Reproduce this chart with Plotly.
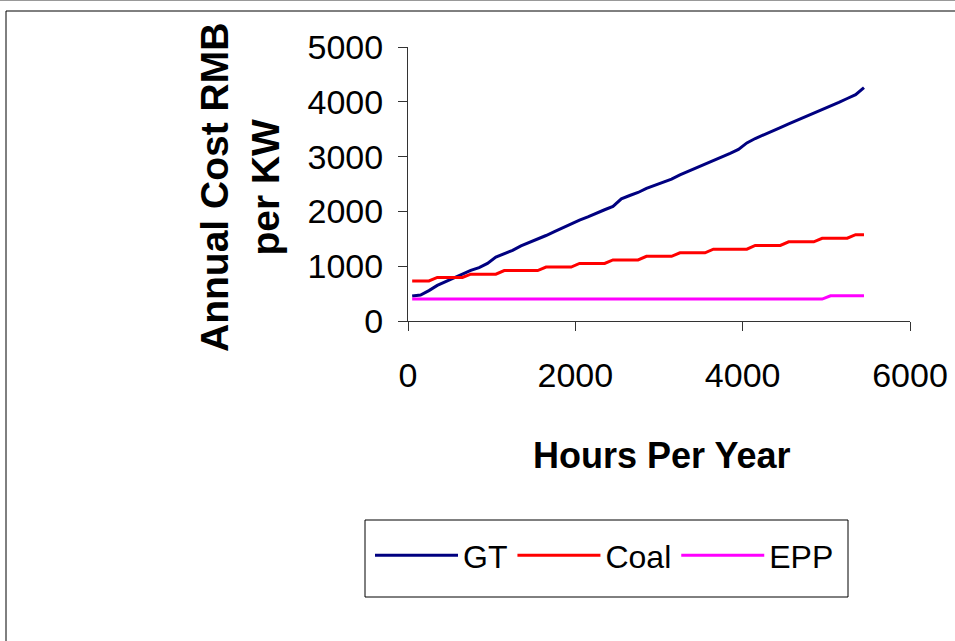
import plotly.graph_objects as go

# Operating hours per year (x values shared by all three series)
hours = [50, 150, 250, 350, 450, 550, 650, 750, 850, 950,
         1050, 1150, 1250, 1350, 1450, 1550, 1650, 1750, 1850, 1950,
         2050, 2150, 2250, 2350, 2450, 2550, 2650, 2750, 2850, 2950,
         3050, 3150, 3250, 3350, 3450, 3550, 3650, 3750, 3850, 3950,
         4050, 4150, 4250, 4350, 4450, 4550, 4650, 4750, 4850, 4950,
         5050, 5150, 5250, 5350, 5450]

# Annual cost, RMB per kW
gt_cost = [457, 475, 555, 650, 720, 790, 860, 925, 975, 1050,
           1165, 1225, 1290, 1370, 1430, 1490, 1560, 1630, 1700, 1780,
           1840, 1900, 1970, 2030, 2090, 2230, 2290, 2345, 2420, 2480,
           2530, 2590, 2665, 2730, 2790, 2860, 2930, 2995, 3060, 3130,
           3250, 3330, 3400, 3460, 3530, 3595, 3660, 3720, 3790, 3855,
           3920, 3990, 4060, 4130, 4260]

coal_cost = [730, 730, 730, 795, 795, 795, 795, 855, 855, 855,
             855, 920, 920, 920, 920, 920, 985, 985, 985, 985,
             1050, 1050, 1050, 1050, 1115, 1115, 1115, 1115, 1180, 1180,
             1180, 1180, 1245, 1245, 1245, 1245, 1310, 1310, 1310, 1310,
             1310, 1380, 1380, 1380, 1380, 1445, 1445, 1445, 1445, 1510,
             1510, 1510, 1510, 1575, 1575]

epp_cost = [400, 400, 400, 400, 400, 400, 400, 400, 400, 400,
            400, 400, 400, 400, 400, 400, 400, 400, 400, 400,
            400, 400, 400, 400, 400, 400, 400, 400, 400, 400,
            400, 400, 400, 400, 400, 400, 400, 400, 400, 400,
            400, 400, 400, 400, 400, 400, 400, 400, 400, 400,
            460, 460, 460, 460, 460]

series_names = ["GT", "Coal", "EPP"]
series_colors = ["#000080", "#FF0000", "#FF00FF"]
x_ticks = [0, 2000, 4000, 6000]
y_ticks = [0, 1000, 2000, 3000, 4000, 5000]

W, H = 955, 641
ML, MR, MT, MB = 408, 45, 47, 320
PW, PH = W - ML - MR, H - MT - MB

FONT = "Liberation Sans, Arial, sans-serif"


def px_x(px):
    return (px - ML) / PW


def px_y(py):
    return (H - MB - py) / PH


fig = go.Figure()
for name, color, ys in zip(series_names, series_colors, [gt_cost, coal_cost, epp_cost]):
    fig.add_trace(go.Scatter(x=hours, y=ys, mode="lines", name=name,
                             line=dict(color=color, width=3)))

axis_common = dict(showgrid=False, zeroline=False, showline=True,
                   linecolor="#333333", linewidth=1, ticks="outside",
                   ticklen=9, tickcolor="#333333", tickwidth=1,
                   automargin=False,
                   tickfont=dict(family=FONT, size=34, color="black"))

fig.update_xaxes(range=[0, 6000], tickvals=x_ticks, ticklabelstandoff=15,
                 **axis_common)
fig.update_yaxes(range=[0, 5000], tickvals=y_ticks, ticklabelstandoff=8,
                 **axis_common)

# Axis titles
fig.add_annotation(text="Hours Per Year", xref="paper", yref="paper",
                   x=px_x(661), y=px_y(455), xanchor="center", yanchor="middle",
                   showarrow=False,
                   font=dict(family=FONT, size=36, color="black", weight="bold"))
fig.add_annotation(text="Annual Cost RMB<br>per KW", xref="paper", yref="paper",
                   x=px_x(240), y=px_y(188), xanchor="center", yanchor="middle",
                   textangle=-90, showarrow=False,
                   font=dict(family=FONT, size=39, color="black", weight="bold"))

# Chart-area frame
fig.add_shape(type="line", xref="paper", yref="paper",
              x0=px_x(0), x1=px_x(W), y0=px_y(0.5), y1=px_y(0.5),
              line=dict(color="#999999", width=1))
fig.add_shape(type="line", xref="paper", yref="paper",
              x0=px_x(6), x1=px_x(W), y0=px_y(11), y1=px_y(11),
              line=dict(color="black", width=1))
fig.add_shape(type="line", xref="paper", yref="paper",
              x0=px_x(6), x1=px_x(6), y0=px_y(11), y1=px_y(H),
              line=dict(color="black", width=1))

# Legend box
fig.add_shape(type="rect", xref="paper", yref="paper",
              x0=px_x(365), x1=px_x(848), y0=px_y(520), y1=px_y(597),
              line=dict(color="black", width=1), fillcolor="rgba(0,0,0,0)")

fig.update_layout(
    width=W, height=H,
    margin=dict(l=ML, r=MR, t=MT, b=MB, autoexpand=False),
    paper_bgcolor="white", plot_bgcolor="white",
    showlegend=True,
    legend=dict(orientation="h", xref="container", yref="container",
                x=370 / W, y=1 - 528 / H,
                xanchor="left", yanchor="top",
                borderwidth=0, bgcolor="rgba(0,0,0,0)",
                font=dict(family=FONT, size=32, color="black"),
                itemwidth=83),
)

fig.write_html("out.html")
